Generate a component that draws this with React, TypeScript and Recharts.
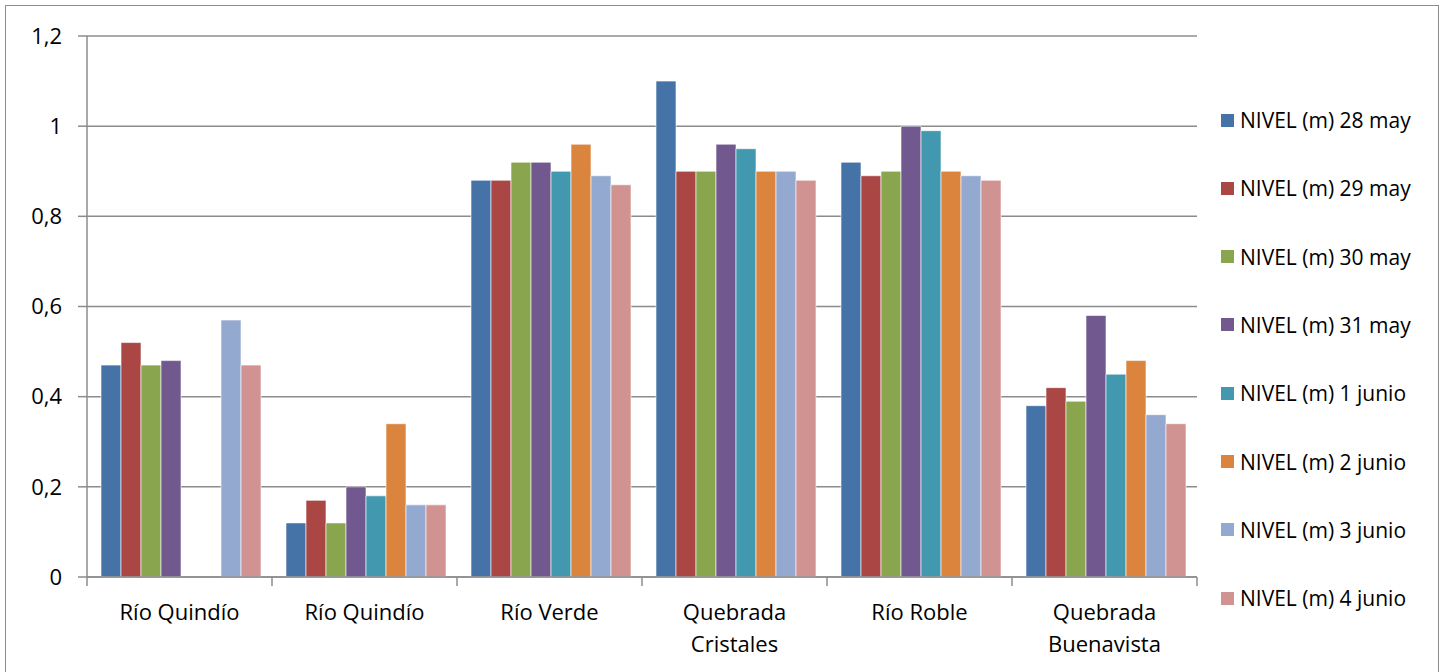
import React from "react";
import { BarChart, Bar, XAxis, YAxis, CartesianGrid } from "recharts";

const categories = [
  "Río Quindío",
  "Río Quindío",
  "Río Verde",
  "Quebrada\nCristales",
  "Río Roble",
  "Quebrada\nBuenavista",
];

const seriesNames = [
  "NIVEL (m) 28 may",
  "NIVEL (m) 29 may",
  "NIVEL (m) 30 may",
  "NIVEL (m) 31 may",
  "NIVEL (m) 1 junio",
  "NIVEL (m) 2 junio",
  "NIVEL (m) 3 junio",
  "NIVEL (m) 4 junio",
];

const may28 = [0.47, 0.12, 0.88, 1.1, 0.92, 0.38];
const may29 = [0.52, 0.17, 0.88, 0.9, 0.89, 0.42];
const may30 = [0.47, 0.12, 0.92, 0.9, 0.9, 0.39];
const may31 = [0.48, 0.2, 0.92, 0.96, 1.0, 0.58];
const jun1 = [null, 0.18, 0.9, 0.95, 0.99, 0.45];
const jun2 = [null, 0.34, 0.96, 0.9, 0.9, 0.48];
const jun3 = [0.57, 0.16, 0.89, 0.9, 0.89, 0.36];
const jun4 = [0.47, 0.16, 0.87, 0.88, 0.88, 0.34];

const yTicks = [0, 0.2, 0.4, 0.6, 0.8, 1, 1.2];

const COLORS = [
  "#4572A7",
  "#AA4643",
  "#89A54E",
  "#71588F",
  "#4198AF",
  "#DB843D",
  "#93A9CF",
  "#D19392",
];

const allSeries = [may28, may29, may30, may31, jun1, jun2, jun3, jun4];

const data = categories.map((name, i) => {
  const row: Record<string, any> = { name, idx: i };
  allSeries.forEach((s, k) => {
    row["s" + k] = s[i];
  });
  return row;
});

const FONT = "'Open Sans', 'Noto Sans', sans-serif";
const GRID = "#8c8c8c";
const CHART_W = 1443;
const CHART_H = 672;
const PLOT_LEFT = 87;
const PLOT_RIGHT = 1197;
const PLOT_BOTTOM = 577;
const BAND = (PLOT_RIGHT - PLOT_LEFT) / categories.length;

function CategoryTick({ x, payload, index }: any) {
  const lines = String(payload.value).split("\n");
  const y0 = PLOT_BOTTOM;
  return (
    <g>
      <line x1={x - BAND / 2} x2={x - BAND / 2} y1={y0} y2={y0 + 9} stroke={GRID} strokeWidth={1.5} />
      {index === categories.length - 1 && (
        <line x1={x + BAND / 2} x2={x + BAND / 2} y1={y0} y2={y0 + 9} stroke={GRID} strokeWidth={1.5} />
      )}
      <text x={x} y={y0 + 43} textAnchor="middle" fontSize={22} fontFamily={FONT} fill="#000">
        {lines.map((l, i) => (
          <tspan key={i} x={x} dy={i === 0 ? 0 : 32}>
            {l}
          </tspan>
        ))}
      </text>
    </g>
  );
}

function fmt(v: number) {
  return String(Math.round(v * 10) / 10).replace(".", ",");
}

export default function App() {
  return (
    <div style={{ position: "absolute", left: 0, top: 0, width: CHART_W, height: CHART_H, background: "#fff", overflow: "hidden" }}>
      <div
        style={{
          position: "absolute",
          left: 5,
          top: 5,
          width: 1434,
          height: 720,
          border: "1.5px solid #8c8c8c",
          boxSizing: "border-box",
        }}
      />
      <BarChart
        width={CHART_W}
        height={CHART_H}
        data={data}
        margin={{ top: 36, right: CHART_W - PLOT_RIGHT, bottom: 0, left: 0 }}
        barCategoryGap={14}
        barGap={0}
        style={{ position: "absolute", left: 0, top: 0 }}
      >
        <CartesianGrid vertical={false} stroke={GRID} strokeWidth={1.5} />
        <XAxis
          dataKey="name"
          height={CHART_H - PLOT_BOTTOM}
          axisLine={{ stroke: GRID, strokeWidth: 1.5 }}
          tickLine={false}
          tick={<CategoryTick />}
          interval={0}
        />
        <YAxis
          width={PLOT_LEFT}
          domain={[0, 1.2]}
          ticks={yTicks}
          tickFormatter={fmt}
          axisLine={{ stroke: GRID, strokeWidth: 1.5 }}
          tickLine={{ stroke: GRID, strokeWidth: 1.5 }}
          tickSize={9}
          tickMargin={16}
          tick={{ fontSize: 22, fontFamily: FONT, fill: "#000" }}
        />
        {seriesNames.map((n, k) => (
          <Bar
            key={n}
            dataKey={"s" + k}
            name={n}
            fill={COLORS[k]}
            stroke="#ffffff"
            strokeOpacity={0.6}
            strokeWidth={1}
            isAnimationActive={false}
          />
        ))}
      </BarChart>
      {seriesNames.map((n, k) => (
        <div
          key={n}
          style={{
            position: "absolute",
            left: 1221,
            top: 106 + k * 68.3,
            display: "flex",
            alignItems: "center",
            fontFamily: FONT,
            fontSize: 21,
            lineHeight: "28px",
            color: "#000",
            whiteSpace: "nowrap",
          }}
        >
          <span style={{ width: 13, height: 13, background: COLORS[k], marginRight: 6, display: "inline-block" }} />
          {n}
        </div>
      ))}
    </div>
  );
}
